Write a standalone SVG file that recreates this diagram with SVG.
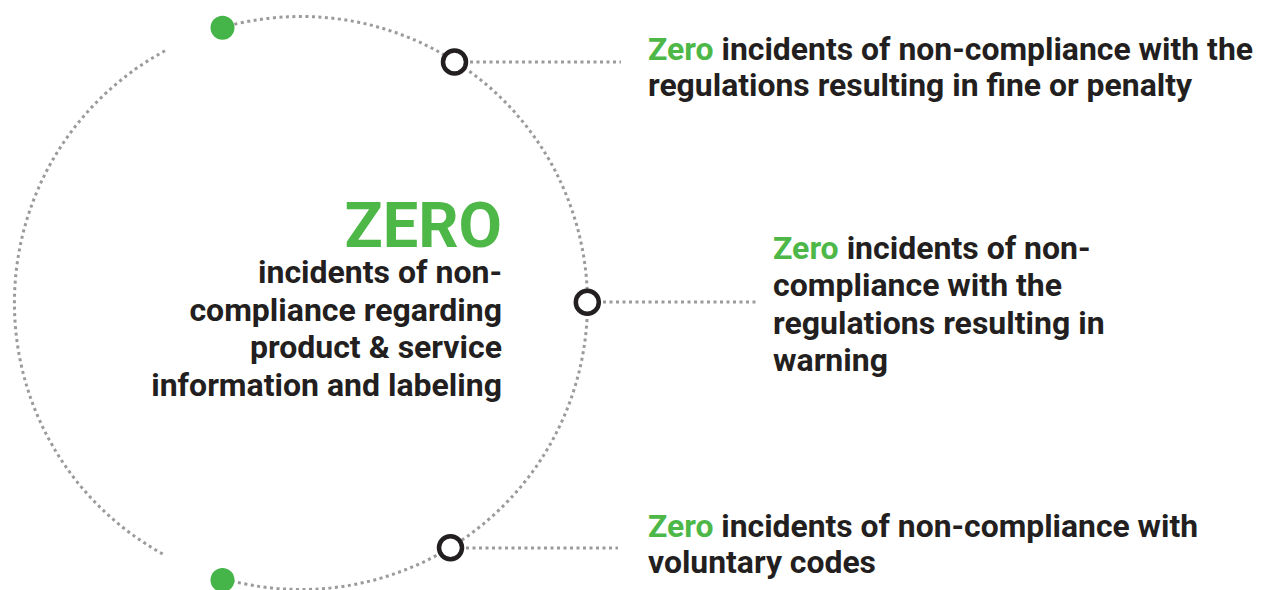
<svg xmlns="http://www.w3.org/2000/svg" width="1264" height="590" viewBox="0 0 1264 590">
<style>
.dot{fill:none;stroke:#9b9b9b;stroke-width:3;stroke-dasharray:3 3.5}
.ring{fill:#fff;stroke:#231f20;stroke-width:4.5}
.gdot{fill:#46b549}
.t{font-family:Roboto,"Liberation Sans",sans-serif;font-weight:700;fill:#231f20}
.g{fill:#4db848}
.big{font-size:63px}
.m{font-size:32px}
.c{font-size:32px}
</style>
<rect width="1264" height="590" fill="#fff"/>
<g id="connectors">
<path class="dot" d="M222,27.6 A286.5,286.5 0 1 1 222,578.4"/>
<path class="dot" d="M165,50.8 A286.5,286.5 0 0 0 165,555.2"/>
<line class="dot" x1="470" y1="62" x2="621" y2="62"/>
<line class="dot" x1="603" y1="302" x2="756" y2="302"/>
<line class="dot" x1="466" y1="548" x2="618" y2="548"/>
</g>
<g id="dot-top"><circle class="gdot" cx="222.5" cy="27.7" r="12"/></g>
<g id="dot-bottom"><circle class="gdot" cx="222.5" cy="580" r="12"/></g>
<g id="node-top"><circle class="ring" cx="454.5" cy="62" r="11.5"/></g>
<g id="node-middle"><circle class="ring" cx="587.3" cy="302.3" r="11.5"/></g>
<g id="node-bottom"><circle class="ring" cx="450.5" cy="547.8" r="11.5"/></g>
<g id="center-label" class="t" text-anchor="end">
<text class="t g big" x="502" y="247">ZERO</text>
<text class="t m" x="502" y="283">incidents of non-</text>
<text class="t m" x="502" y="320.5">compliance regarding</text>
<text class="t m" x="502" y="358">product &amp; service</text>
<text class="t m" x="502" y="396">information and labeling</text>
</g>
<g id="label-top">
<text class="t c" x="648" y="59.5" textLength="605" lengthAdjust="spacingAndGlyphs"><tspan class="g">Zero</tspan> incidents of non-compliance with the</text>
<text class="t c" x="648" y="96" textLength="544" lengthAdjust="spacingAndGlyphs">regulations resulting in fine or penalty</text>
</g>
<g id="label-middle">
<text class="t m" x="773" y="258.5"><tspan class="g">Zero</tspan> incidents of non-</text>
<text class="t m" x="773" y="296">compliance with the</text>
<text class="t m" x="773" y="333.5">regulations resulting in</text>
<text class="t m" x="773" y="371">warning</text>
</g>
<g id="label-bottom">
<text class="t c" x="648" y="536.5" textLength="550" lengthAdjust="spacingAndGlyphs"><tspan class="g">Zero</tspan> incidents of non-compliance with</text>
<text class="t c" x="648" y="572.5" textLength="228" lengthAdjust="spacingAndGlyphs">voluntary codes</text>
</g>
</svg>
